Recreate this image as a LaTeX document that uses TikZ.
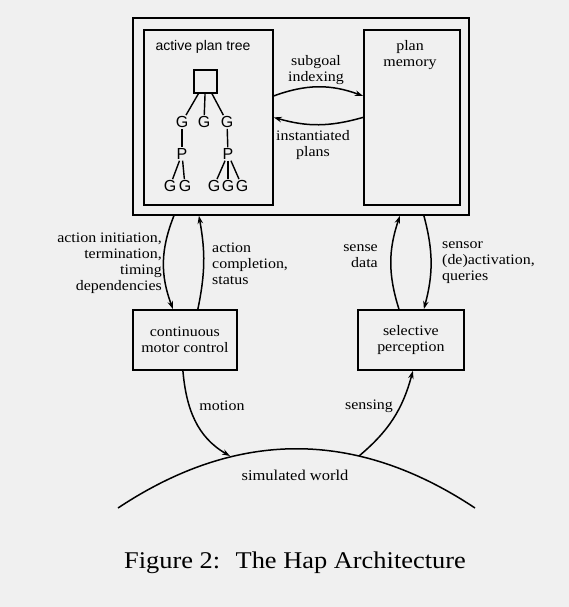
\documentclass[tikz,border=0pt]{standalone}
\usepackage{fontspec}
\setmainfont{Liberation Serif}[FakeStretch=1.1]
\newfontfamily\treefont{Liberation Sans}
\usetikzlibrary{arrows.meta}

\begin{document}
\begin{tikzpicture}[x=1pt, y=1pt, >={Stealth[length=8pt,width=5.5pt]},
    box/.style={draw, line width=1.8pt, inner sep=0pt},
    lbl/.style={font=\fontsize{14.5}{16}\selectfont, inner sep=1pt},
    leaf/.style={font=\treefont\fontsize{16}{16}\selectfont, inner sep=1pt},
    link/.style={->, line width=1.5pt}]
    \fill[black!6] (0,0) rectangle (569,-607);
    \node[box, anchor=north west, minimum width=336, minimum height=197] (outer) at (132,-17) {};
    \node[box, anchor=north west, minimum width=129, minimum height=175] (tree) at (143,-29) {};
    \node[box, anchor=north west, minimum width=96, minimum height=175] (mem) at (363,-29) {};
    \node[box, anchor=north west, minimum width=104, minimum height=60, lbl, align=center] (motor) at (132,-309) {continuous\\motor control};
    \node[box, anchor=north west, minimum width=106, minimum height=60, lbl, align=center] (percep) at (357,-309) {selective\\perception};
    \node[font=\treefont\fontsize{14}{14}\selectfont] (treetitle) at (203,-47) {active plan tree};
    \node[lbl, align=center] (memtitle) at (410,-55) {plan\\memory};

    \node[draw, line width=1.4pt, minimum size=23, inner sep=0pt] (root) at (205.5,-81.5) {};
    \foreach \n/\x in {g1/182, g2/204, g3/227} {
        \node[leaf] (\n) at (\x,-122) {G};
        \draw[line width=1.4pt] (root) -- (\n);
    }
    \node[leaf] (p1) at (182,-154) {P};
    \node[leaf] (p2) at (228,-154) {P};
    \draw[line width=1.4pt] (g1) -- (p1);
    \draw[line width=1.4pt] (g3) -- (p2);
    \foreach \n/\x/\p in {l1/170/p1, l2/185/p1, l3/214/p2, l4/228/p2, l5/242/p2} {
        \node[leaf] (\n) at (\x,-186) {G};
        \draw[line width=1.4pt] (\p) -- (\n);
    }

    \draw[link] ([yshift=21.5]tree.east) to[bend left=20] ([yshift=21.5]mem.west);
    \draw[link] (mem.west) to[bend left=16] (tree.east);
    \node[lbl, align=center] (subgoal) at (316,-70) {subgoal\\indexing};
    \node[lbl, align=center] (inst) at (313,-145) {instantiated\\plans};

    \draw[link] ([xshift=-127]outer.south) to[bend right=21] ([xshift=-12]motor.north);
    \draw[link] ([xshift=13]motor.north) to[bend right=11] ([xshift=-102]outer.south);
    \draw[link] ([xshift=-12]percep.north) to[bend left=18] ([xshift=99]outer.south);
    \draw[link] ([xshift=123]outer.south) to[bend left=15] ([xshift=13]percep.north);
    \node[lbl, anchor=east, align=right] (actinit) at (163,-263) {action initiation,\\termination,\\timing\\dependencies};
    \node[lbl, anchor=west, align=left] (actcomp) at (211,-264) {action\\completion,\\status};
    \node[lbl, anchor=east, align=right] (sense) at (379,-256) {sense\\data};
    \node[lbl, anchor=west, align=left] (sensor) at (441,-263) {sensor\\(de)activation,\\queries};

    \draw[line width=1.5pt] (118,-508) .. controls (237,-429) and (356,-429) .. (475,-508);
    \coordinate (wm) at (230,-456);
    \coordinate (ws) at (359,-456);
    \draw[link] ([xshift=-2]motor.south) to[out=-85, in=150] (wm);
    \draw[link] (ws) to[out=40, in=-105] ([xshift=2]percep.south);
    \node[lbl] (motion) at (222,-406) {motion};
    \node[lbl] (sensing) at (369,-406) {sensing};
    \node[font=\fontsize{15}{16}\selectfont] (world) at (295,-475) {simulated world};

    \node[font=\fontsize{24}{26}\selectfont] (caption) at (295,-563) {Figure 2: \ The Hap Architecture};
\end{tikzpicture}
\end{document}
